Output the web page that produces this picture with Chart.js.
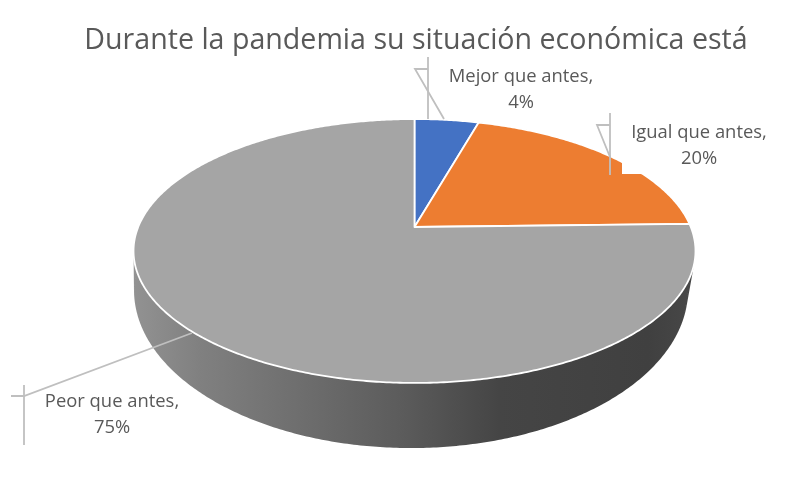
<!DOCTYPE html>
<html>
<head>
<meta charset="utf-8">
<title>Situación económica</title>
<script src="https://cdn.jsdelivr.net/npm/chart.js@4"></script>
<style>
  html, body { margin: 0; padding: 0; background: #fff; }
  canvas { display: block; }
</style>
</head>
<body>
<canvas id="chart" width="800" height="479"></canvas>
<script>
const chartTitle = 'Durante la pandemia su situación económica está';
const categories = ['Mejor que antes', 'Igual que antes', 'Peor que antes'];
// labels round these to 4%, 20%, 75%; the decimals are read from the slice edges
const shares = [4.4, 20.2, 75.4];
const sliceColors = ['#4472c4', '#ed7d31', '#a5a5a5'];

// tilted disc: top face and bottom face of the 3D pie, k is the perspective
const topFace = { cx: 414.5, cy: 227, rx: 276.3, ry: 127.6 };
const bottomFace = { cx: 411, cy: 261.3, rx: 272.4, ry: 152.8 };
const k = 0.1818;

// label boxes and their leader lines [x, y] in page pixels
const labelSpots = [
  { x: 521, y: 85, box: [440, 62, 162, 56], line: [[428, 57], [428, 119]], tail: [[428, 69], [415, 69], [444, 119]] },
  { x: 699, y: 141, box: [622, 118, 154, 56], line: [[610, 113], [610, 175]], tail: [[610, 125], [597, 125], [610, 157]] },
  { x: 112, y: 410, box: [36, 386, 151, 56], line: [[24, 385], [24, 445]], tail: [[11, 396], [24, 396], [192, 333]] }
];

function project(face, angle) {
  const u = Math.cos(angle), v = Math.sin(angle);
  const w = 1 - k * v;
  return [face.cx + face.rx * u / w, face.cy + face.ry * v / w];
}

function arcPoints(face, start, end) {
  const pts = [];
  const steps = Math.max(4, Math.ceil((end - start) / 0.01));
  for (let i = 0; i <= steps; i++) {
    pts.push(project(face, start + (end - start) * i / steps));
  }
  return pts;
}

function addShape(ctx, pts) {
  pts.forEach((p, i) => i ? ctx.lineTo(p[0], p[1]) : ctx.moveTo(p[0], p[1]));
  ctx.closePath();
}

// all quads need the same winding or the overlaps cancel out
function addQuad(ctx, quad) {
  let area = 0;
  quad.forEach((p, i) => {
    const q = quad[(i + 1) % quad.length];
    area += p[0] * q[1] - q[0] * p[1];
  });
  addShape(ctx, area < 0 ? quad.slice().reverse() : quad);
}

const pie3d = {
  id: 'pie3d',
  // the library works out the slice angles, this only projects them on the tilted disc
  beforeDatasetDraw(chart, args) {
    const ctx = chart.ctx;
    const arcs = args.meta.data;
    const side = ctx.createLinearGradient(134, 0, 696, 0);
    side.addColorStop(0, '#929292');
    side.addColorStop(0.117, '#808080');
    side.addColorStop(0.295, '#6e6e6e');
    side.addColorStop(0.473, '#5c5c5c');
    side.addColorStop(0.65, '#454545');
    side.addColorStop(0.915, '#404040');
    side.addColorStop(1, '#484848');

    ctx.save();
    ctx.beginPath();
    arcs.forEach(arc => {
      const upper = arcPoints(topFace, arc.startAngle, arc.endAngle);
      const lower = arcPoints(bottomFace, arc.startAngle, arc.endAngle);
      for (let i = 0; i < upper.length - 1; i++) {
        addQuad(ctx, [upper[i], upper[i + 1], lower[i + 1], lower[i]]);
      }
    });
    ctx.fillStyle = side;
    ctx.fill();

    arcs.forEach(arc => {
      ctx.beginPath();
      addShape(ctx, [[topFace.cx, topFace.cy]].concat(arcPoints(topFace, arc.startAngle, arc.endAngle)));
      ctx.fillStyle = arc.options.backgroundColor;
      ctx.fill();
      ctx.lineJoin = 'round';
      ctx.strokeStyle = '#ffffff';
      ctx.lineWidth = 1.8;
      ctx.stroke();
    });
    ctx.restore();
    return false;
  },
  afterDatasetsDraw(chart) {
    const ctx = chart.ctx;
    ctx.save();
    labelSpots.forEach((spot, i) => {
      ctx.fillStyle = '#ffffff';
      ctx.fillRect(spot.box[0], spot.box[1], spot.box[2], spot.box[3]);
      ctx.strokeStyle = '#bfbfbf';
      ctx.lineWidth = 1.8;
      [spot.line, spot.tail].forEach(seg => {
        ctx.beginPath();
        seg.forEach((p, j) => j ? ctx.lineTo(p[0], p[1]) : ctx.moveTo(p[0], p[1]));
        ctx.stroke();
      });
      ctx.fillStyle = '#595959';
      ctx.font = '18.4px "Open Sans"';
      ctx.textAlign = 'center';
      ctx.textBaseline = 'middle';
      ctx.fillText(categories[i] + ',', spot.x, spot.y - 8);
      ctx.fillText(Math.round(shares[i]) + '%', spot.x, spot.y + 18);
    });
    ctx.restore();
  }
};

new Chart(document.getElementById('chart'), {
  type: 'pie',
  data: {
    labels: categories,
    datasets: [{ data: shares, backgroundColor: sliceColors }]
  },
  options: {
    responsive: false,
    animation: false,
    layout: { padding: { left: 32 } },
    plugins: {
      legend: { display: false },
      tooltip: { enabled: false },
      title: {
        display: true,
        text: chartTitle,
        color: '#595959',
        font: { family: '"Open Sans"', size: 28.6, weight: 'normal' },
        padding: { top: 24, bottom: 10 }
      }
    }
  },
  plugins: [pie3d]
});
</script>
</body>
</html>
